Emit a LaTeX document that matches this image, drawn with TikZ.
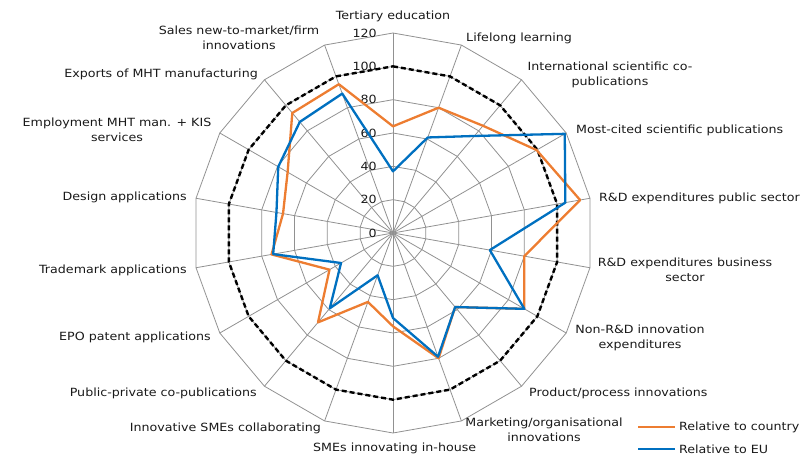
\documentclass[tikz,border=0pt]{standalone}
\usepackage{fontspec}
\setmainfont{DejaVu Sans}[FakeStretch=1.12]
\definecolor{ctryorange}{RGB}{237,125,49}
\definecolor{eublue}{RGB}{0,112,192}
\definecolor{gridgray}{RGB}{145,145,145}
\definecolor{txtgray}{RGB}{25,25,25}

\begin{document}
\begin{tikzpicture}[x=1pt,y=1pt,
    font=\fontsize{11.3}{15.5}\selectfont, text=txtgray,
    gridline/.style={draw=gridgray, line width=0.8pt},
    ring100/.style={draw=black, line width=2.4pt, dash pattern=on 5pt off 3pt},
    ctryline/.style={draw=ctryorange, line width=2.3pt, line join=round},
    euline/.style={draw=eublue, line width=2.3pt, line join=round},
    axlabel/.style={inner sep=1pt, align=center}]
    \useasboundingbox (-393,-223) rectangle (407,233);
    \begin{scope}[scale=5/3]
        % grid
        \foreach \r in {20,40,...,120}
            \draw [gridline] (90:\r) \foreach \a in {70,50,...,-250} {-- (\a:\r)} -- cycle;
        \foreach \a in {90,70,...,-250}
            \draw [gridline] (0,0) -- (\a:120);
        \draw [ring100] (90:100) \foreach \a in {70,50,...,-250} {-- (\a:100)} -- cycle;
        % scale
        \foreach \r in {0,20,...,120}
            \node [anchor=east, inner sep=0pt] (tick\r) at (-9.6,\r) {\r};
        % relative to country
        \draw [ctryline] (90:64) -- (70:80) -- (50:84) -- (30:99.5) -- (10:114)
            -- (-10:80) -- (-30:91) -- (-50:58) -- (-70:80) -- (-90:56)
            -- (-110:44) -- (-130:70) -- (-150:44) -- (-170:74) -- (-190:67)
            -- (-210:73) -- (-230:94) -- (-250:95) -- cycle;
        % relative to EU
        \draw [euline] (90:37) -- (70:61) -- (50:76) -- (30:119) -- (10:105)
            -- (-10:59) -- (-30:91) -- (-50:58) -- (-70:79) -- (-90:51)
            -- (-110:27) -- (-130:59) -- (-150:36) -- (-170:73) -- (-190:71)
            -- (-210:79.5) -- (-230:87) -- (-250:89) -- cycle;
    \end{scope}
    % axis labels
    \node [axlabel] (tert) at (0,217) {Tertiary education};
    \node [axlabel, anchor=west] (life) at (72,195) {Lifelong learning};
    \node [axlabel] (intl) at (217,158) {International scientific co-\\publications};
    \node [axlabel, anchor=west] (most) at (182,103) {Most-cited scientific publications};
    \node [axlabel, anchor=west] (rdpub) at (205,35) {R\&D expenditures public sector};
    \node [axlabel] (rdbus) at (292,-37) {R\&D expenditures business\\sector};
    \node [axlabel] (nonrd) at (247,-105) {Non-R\&D innovation\\expenditures};
    \node [axlabel, anchor=west] (prod) at (135,-160) {Product/process innovations};
    \node [axlabel] (mkt) at (151,-197) {Marketing/organisational\\innovations};
    \node [axlabel, anchor=west] (smeinh) at (-81,-215) {SMEs innovating in-house};
    \node [axlabel, anchor=east] (smecol) at (-71,-195) {Innovative SMEs collaborating};
    \node [axlabel, anchor=east] (pubpriv) at (-135,-160) {Public-private co-publications};
    \node [axlabel, anchor=east] (epo) at (-181,-104) {EPO patent applications};
    \node [axlabel, anchor=east] (tm) at (-205,-37) {Trademark applications};
    \node [axlabel, anchor=east] (design) at (-205,36) {Design applications};
    \node [axlabel] (empl) at (-276,103) {Employment MHT man. + KIS\\services};
    \node [axlabel, anchor=east] (exports) at (-134,159) {Exports of MHT manufacturing};
    \node [axlabel] (sales) at (-154,195) {Sales new-to-market/firm\\innovations};
    % legend
    \coordinate (legc) at (245,-194);
    \coordinate (lege) at (245,-216);
    \draw [ctryline] (legc) -- ++(37,0) node [axlabel, anchor=west, xshift=2pt] (legctry) {Relative to country};
    \draw [euline] (lege) -- ++(37,0) node [axlabel, anchor=west, xshift=2pt] (legeu) {Relative to EU};
\end{tikzpicture}
\end{document}
